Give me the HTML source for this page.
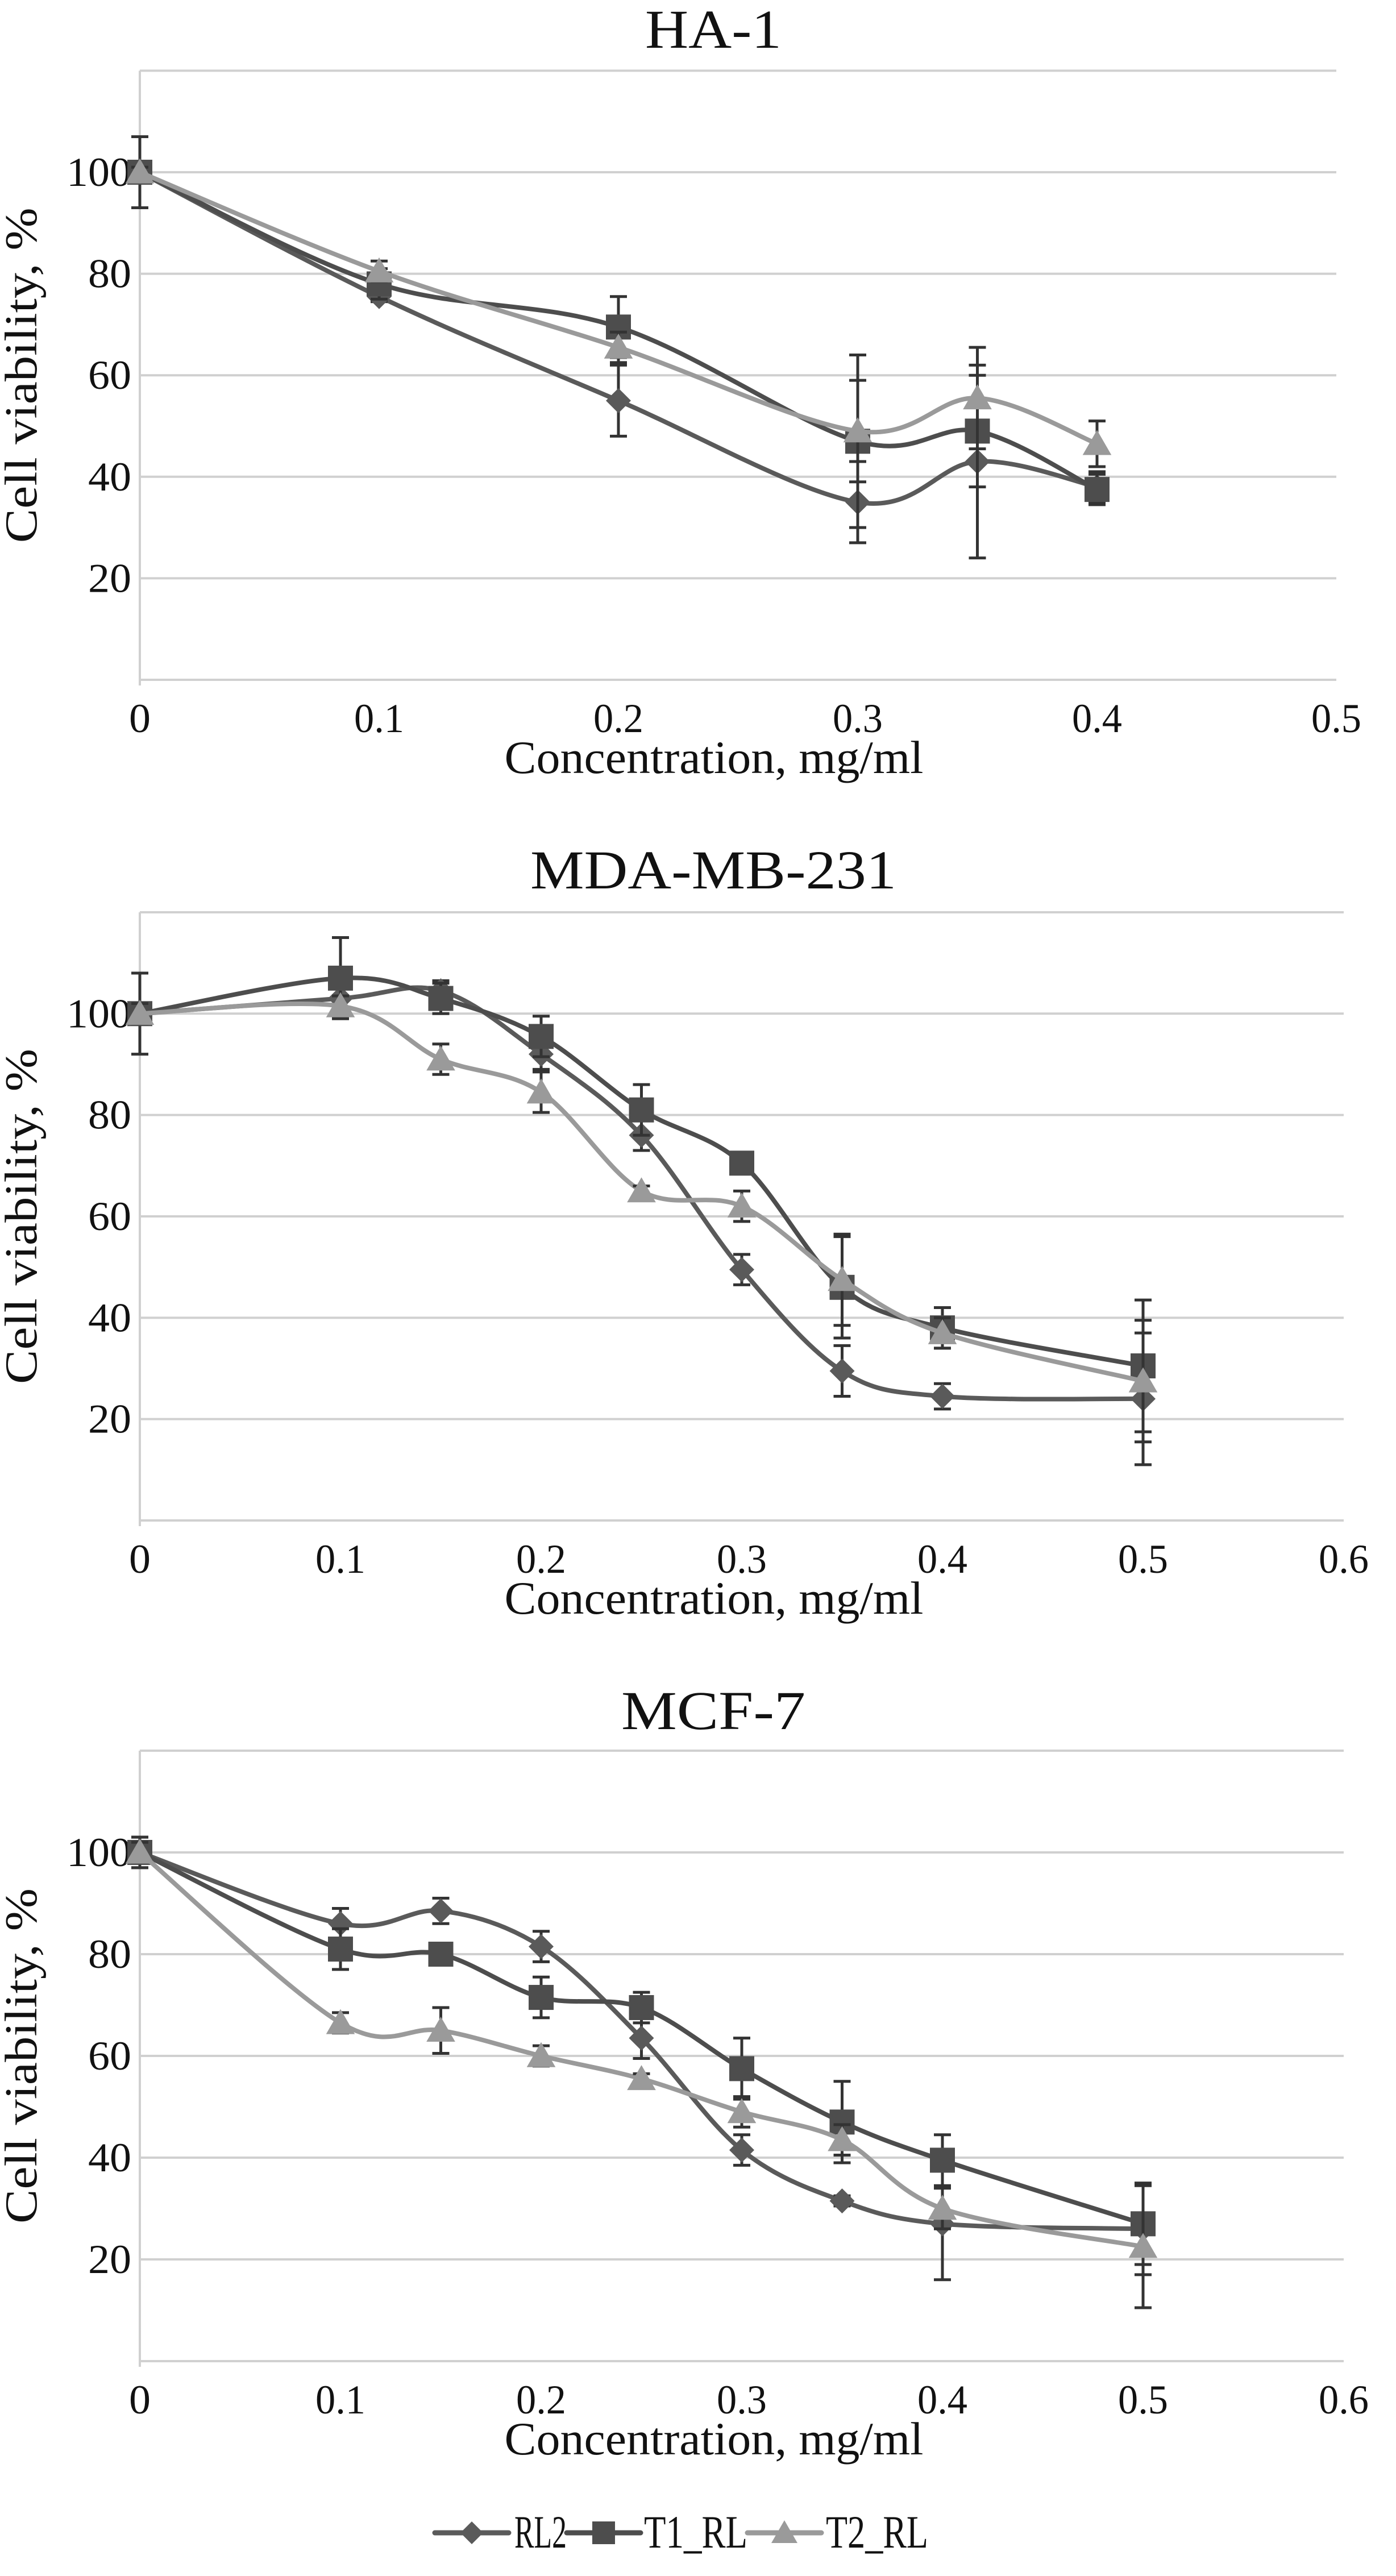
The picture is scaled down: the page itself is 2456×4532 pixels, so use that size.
<!DOCTYPE html>
<html><head><meta charset="utf-8">
<style>
html,body{margin:0;padding:0;background:#fff;}
svg{display:block;}
text{font-family:"Liberation Serif",serif;fill:#111;}
</style></head>
<body>
<svg id="chart" width="2456" height="4532" viewBox="0 0 2456 4532" xmlns="http://www.w3.org/2000/svg"></svg>
<script>
// ---- data ----
const titles = ["HA-1", "MDA-MB-231", "MCF-7"];
const seriesNames = ["RL2", "T1_RL", "T2_RL"];
const xTicks1 = [0, 0.1, 0.2, 0.3, 0.4, 0.5];
const xTicks2 = [0, 0.1, 0.2, 0.3, 0.4, 0.5, 0.6];
const yTicks = [20, 40, 60, 80, 100];

const conc1 = [0, 0.1, 0.2, 0.3, 0.35, 0.4];
const ha1RL2 = [100, 75.5, 55, 35, 43, 38];
const ha1RL2Err = [7, 1, 7, 8, 19, 3];
const ha1T1 = [100, 78, 69.5, 47, 49, 37.5];
const ha1T1Err = [7, 3, 6, 17, 11, 3];
const ha1T2 = [100, 80.5, 65.5, 49, 55.5, 46.5];
const ha1T2Err = [1, 2, 3, 10, 10, 4.5];

const conc2 = [0, 0.1, 0.15, 0.2, 0.25, 0.3, 0.35, 0.4, 0.5];
const mdaRL2 = [100, 103, 104.5, 92, 76, 49.5, 29.5, 24.5, 24];
const mdaRL2Err = [1, 2, 2, 3, 3, 3, 5, 2.5, 13];
const mdaT1 = [100, 107, 103, 95.5, 81, 70.5, 46, 38, 30.5];
const mdaT1Err = [8, 8, 3, 4, 5, 1, 10, 4, 13];
const mdaT2 = [100, 101.5, 91, 84.5, 65, 62, 47.5, 37, 27.5];
const mdaT2Err = [2, 2, 3, 4, 1, 3, 9, 3, 12];

const mcfRL2 = [100, 86, 88.5, 81.5, 63.5, 41.5, 31.5, 27, 26];
const mcfRL2Err = [3, 3, 2.5, 3, 4, 3, 1, 11, 9];
const mcfT1 = [100, 81, 80, 71.5, 69.5, 57.5, 47, 39.5, 27];
const mcfT1Err = [3, 4, 1, 4, 3, 6, 8, 5, 8];
const mcfT2 = [100, 66.5, 65, 60, 55.5, 49, 43.5, 30, 22.5];
const mcfT2Err = [2, 2, 4.5, 2, 1, 3, 3, 4, 12];

// ---- drawing ----
const NS = "http://www.w3.org/2000/svg";
const svg = document.getElementById("chart");
const colors = ["#5a5a5a", "#4d4d4d", "#9a9a9a"];
const markers = ["diamond", "square", "triangle"];
const titleLen = [240, 644, 324];

function mk(tag, attrs, parent) {
  const e = document.createElementNS(NS, tag);
  for (const k in attrs) e.setAttribute(k, attrs[k]);
  (parent || svg).appendChild(e);
  return e;
}
function txt(str, x, y, size, anchor, parent, len) {
  const t = mk("text", {x: x, y: y, "font-size": size, "text-anchor": anchor || "middle"}, parent);
  if (len) { t.setAttribute("textLength", len); t.setAttribute("lengthAdjust", "spacingAndGlyphs"); }
  t.textContent = str;
  return t;
}
function smoothPath(pts) {
  let d = "M" + pts[0][0] + "," + pts[0][1];
  for (let i = 0; i < pts.length - 1; i++) {
    const p0 = pts[i - 1] || pts[i], p1 = pts[i], p2 = pts[i + 1], p3 = pts[i + 2] || p2;
    const t = 0.5 / 3;
    const c1 = [p1[0] + (p2[0] - p0[0]) * t, p1[1] + (p2[1] - p0[1]) * t];
    const c2 = [p2[0] - (p3[0] - p1[0]) * t, p2[1] - (p3[1] - p1[1]) * t];
    d += " C" + c1[0] + "," + c1[1] + " " + c2[0] + "," + c2[1] + " " + p2[0] + "," + p2[1];
  }
  return d;
}
function marker(type, x, y, color, parent, s) {
  s = s || 22;
  if (type === "diamond") return mk("polygon", {points: `${x},${y-s} ${x+s},${y} ${x},${y+s} ${x-s},${y}`, fill: color}, parent);
  if (type === "square") return mk("rect", {x: x-s, y: y-s, width: 2*s, height: 2*s, fill: color}, parent);
  return mk("polygon", {points: `${x},${y-s*1.1} ${x+s*1.15},${y+s*0.9} ${x-s*1.15},${y+s*0.9}`, fill: color}, parent);
}

function drawChart(idx, cfg) {
  const g = mk("g", {});
  
  
  const x0 = 246, pxPer01 = cfg.pxPer01, y0 = cfg.y0, pyu = cfg.pyu;
  const X = v => x0 + v / 0.1 * pxPer01;
  const Y = v => y0 - v * pyu;
  const xMax = cfg.xTicks[cfg.xTicks.length - 1];
  [0].concat(yTicks).concat([120]).forEach(v => {
    const l = mk("line", {x1: x0, x2: X(xMax), y1: Y(v), y2: Y(v), stroke: "#d0d0d0", "stroke-width": 4}, g);
    
    
  });
  const ax = mk("line", {x1: x0, x2: x0, y1: Y(120), y2: Y(0) + 10, stroke: "#d0d0d0", "stroke-width": 4}, g);
  
  
  yTicks.forEach(v => {
    const s = String(v);
    const t = txt(s, 231, Y(v) + 24, 72, "end", g, s.length * 38);
    
    
  });
  cfg.xTicks.forEach(v => {
    const s = String(v);
    const t = txt(s, X(v), y0 + 92, 72, "middle", g, s.length === 1 ? 38 : 88);
    
    
  });
  const tt = txt(titles[idx], 1255, y0 - 1112, 96, "middle", g, titleLen[idx]);
  
  
  const xt = txt("Concentration, mg/ml", 1256, y0 + 164, 82, "middle", g, 737);
  
  
  const yt = txt("Cell viability, %", 0, 0, 80, "middle", g, 590);
  yt.setAttribute("transform", `translate(64,${Y(60)}) rotate(-90)`);
  
  

  cfg.series.forEach((vals, si) => {
    const sg = mk("g", {}, g);
    
    
    const pts = cfg.x.map((c, i) => [X(c), Y(vals[i])]);
    const p = mk("path", {d: smoothPath(pts), fill: "none", stroke: colors[si], "stroke-width": 8, "stroke-linejoin": "round"}, sg);
    
    
    pts.forEach((pt, i) => {
      const e = cfg.errs[si][i];
      const eg = mk("g", {stroke: "#333", "stroke-width": 5}, sg);
      
      
      const yt2 = Y(vals[i] + e), yb = Y(vals[i] - e);
      mk("line", {x1: pt[0], x2: pt[0], y1: yt2, y2: yb}, eg);
      mk("line", {x1: pt[0] - 15, x2: pt[0] + 15, y1: yt2, y2: yt2}, eg);
      mk("line", {x1: pt[0] - 15, x2: pt[0] + 15, y1: yb, y2: yb}, eg);
    });
    pts.forEach(pt => {
      const m = marker(markers[si], pt[0], pt[1], colors[si], sg);
      
      
    });
  });
}

drawChart(0, {pxPer01: 421, y0: 1196, pyu: 8.93, xTicks: xTicks1, x: conc1,
  series: [ha1RL2, ha1T1, ha1T2], errs: [ha1RL2Err, ha1T1Err, ha1T2Err]});
drawChart(1, {pxPer01: 353, y0: 2675, pyu: 8.917, xTicks: xTicks2, x: conc2,
  series: [mdaRL2, mdaT1, mdaT2], errs: [mdaRL2Err, mdaT1Err, mdaT2Err]});
drawChart(2, {pxPer01: 353, y0: 4154, pyu: 8.95, xTicks: xTicks2, x: conc2,
  series: [mcfRL2, mcfT1, mcfT2], errs: [mcfRL2Err, mcfT1Err, mcfT2Err]});

// legend
const lg = mk("g", {});


const legX = [765, 997, 1315], legTextX = [905, 1133, 1453], legLen = [92, 182, 180];
seriesNames.forEach((n, i) => {
  const eg = mk("g", {}, lg);
  
  
  mk("line", {x1: legX[i], x2: legX[i] + 130, y1: 4456, y2: 4456, stroke: colors[i], "stroke-width": 9, "stroke-linecap": "round"}, eg);
  marker(markers[i], legX[i] + 65, 4456, colors[i], eg, 20);
  txt(n, legTextX[i], 4482, 82, "start", eg, legLen[i]);
});
</script>
</body></html>
